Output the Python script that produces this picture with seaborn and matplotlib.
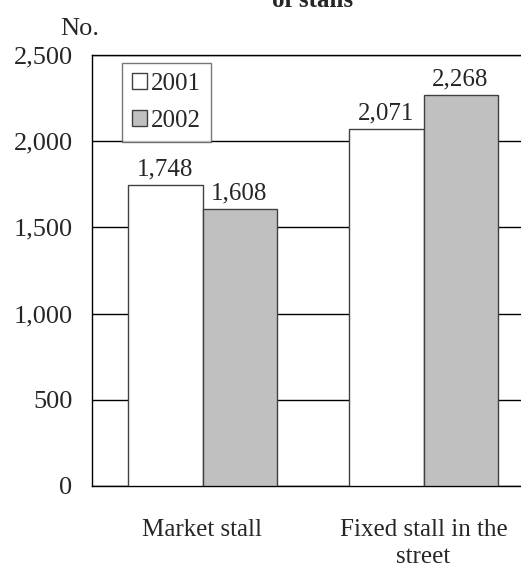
import pandas as pd
import matplotlib
matplotlib.use("Agg")
import matplotlib.pyplot as plt
from matplotlib.ticker import FuncFormatter, FixedLocator
import seaborn as sns

# data
categories = ["Market stall", "Fixed stall in the\nstreet"]
years = ["2001", "2002"]
stalls_2001 = [1748, 2071]
stalls_2002 = [1608, 2268]

df = pd.DataFrame({
    "type": categories * 2,
    "year": [years[0]] * 2 + [years[1]] * 2,
    "stalls": stalls_2001 + stalls_2002,
})

sns.set_style("white")
plt.rcParams["font.family"] = ["Liberation Serif", "DejaVu Serif"]
fs = 18

fig = plt.figure(figsize=(5.21, 5.69), dpi=100)
# axes runs past the right edge of the figure, like the reference
ax = fig.add_axes([92 / 521, 83 / 569, 442 / 521, 431 / 569])

sns.barplot(data=df, x="type", y="stalls", hue="year", order=categories,
            hue_order=years, palette=["white", "#c0c0c0"], width=0.67,
            edgecolor="#404040", linewidth=1, ax=ax, zorder=3)

ax.set_ylim(0, 2500)
ax.set_xlim(-0.5, 1.5)
ax.yaxis.set_major_formatter(FuncFormatter(lambda v, p: f"{v:,.0f}"))
ax.set_yticks(range(0, 2501, 500))
ax.grid(axis="y", color="black", linewidth=1, zorder=0)
ax.set_axisbelow(True)
ax.set_xlabel("")
ax.set_ylabel("")

for c in ax.containers:
    ax.bar_label(c, labels=[f"{v:,.0f}" for v in c.datavalues],
                 padding=3, fontsize=fs)

for s in ["left", "bottom", "top"]:
    ax.spines[s].set_color("black")
    ax.spines[s].set_linewidth(1)
ax.spines["right"].set_visible(False)

ax.tick_params(axis="y", length=0, pad=14, labelsize=fs + 1)
ax.tick_params(axis="x", length=0, pad=24, labelsize=fs)
ax.xaxis.set_minor_locator(FixedLocator([0.5]))
ax.tick_params(axis="x", which="minor", direction="in", length=8,
               color="#555555", width=1)
for lab in ax.get_xticklabels():
    lab.set_horizontalalignment("center")
    lab.set_multialignment("center")
    lab.set_linespacing(1.3)

leg = ax.legend(loc="upper left", bbox_to_anchor=(0.068, 0.981),
                borderaxespad=0, fontsize=fs, frameon=True, fancybox=False,
                handlelength=0.6, handleheight=0.6, handletextpad=0.15,
                labelspacing=0.6, borderpad=0.4, title=None)
leg.get_frame().set_edgecolor("#555555")
leg.get_frame().set_linewidth(1)

fig.text(60 / 521, 1 - 35 / 569, "No.", fontsize=fs + 1, va="baseline")
fig.text(313 / 521, 1 - 12 / 569, "Number\nof stalls", fontsize=fs,
         fontweight="bold", ha="center", va="bottom")

fig.savefig("out.png", dpi=100)
